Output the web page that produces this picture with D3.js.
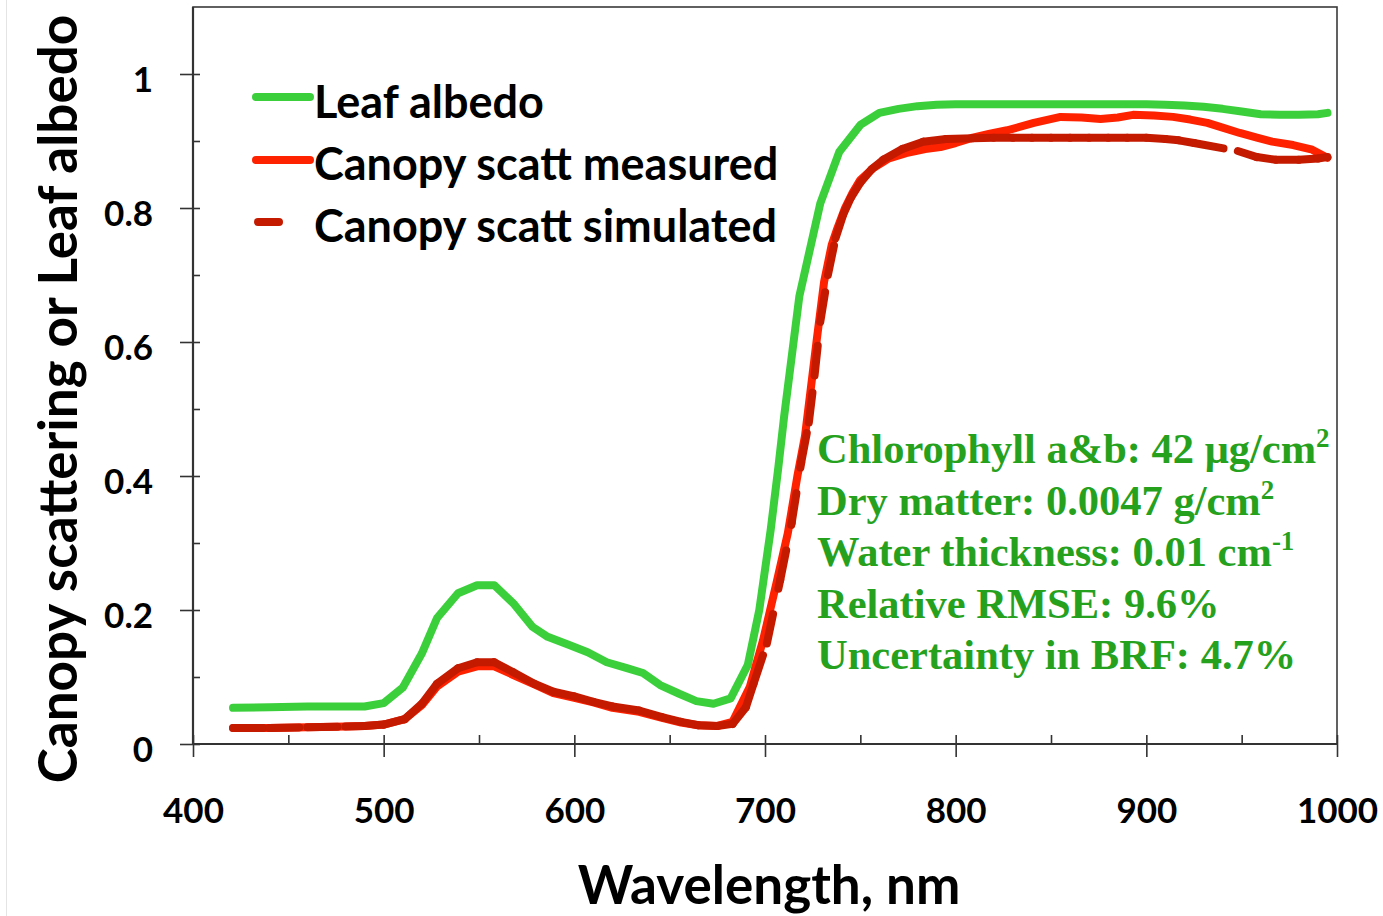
<!DOCTYPE html>
<html>
<head>
<meta charset="utf-8">
<script src="https://cdn.jsdelivr.net/npm/d3@7"></script>
<style>
  html, body { margin: 0; padding: 0; background: #fff; }
  svg { display: block; }
  .tick line { stroke: #333; stroke-width: 1.6; }
  .domain { stroke: none; }
</style>
</head>
<body>
<svg id="chart" width="1383" height="916"></svg>
<script>
// Leaf albedo spectrum
const leafWl = [421, 440, 460, 480, 490, 500, 510, 520, 528, 539, 549, 558, 568, 578, 586, 597, 607, 617, 628, 636, 645, 655, 664, 673, 682, 691, 697, 703, 707, 710, 718, 729, 739, 750, 760, 770, 780, 790, 800, 820, 840, 860, 880, 900, 910, 920, 930, 940, 950, 960, 970, 980, 990, 995];
const leafAlbedo = [0.054, 0.055, 0.056, 0.056, 0.056, 0.061, 0.084, 0.135, 0.188, 0.225, 0.237, 0.237, 0.210, 0.175, 0.160, 0.148, 0.137, 0.122, 0.113, 0.106, 0.088, 0.075, 0.064, 0.060, 0.068, 0.118, 0.200, 0.320, 0.413, 0.488, 0.668, 0.807, 0.884, 0.924, 0.942, 0.948, 0.952, 0.954, 0.955, 0.955, 0.955, 0.955, 0.955, 0.955, 0.954, 0.953, 0.951, 0.948, 0.944, 0.940, 0.939, 0.939, 0.940, 0.942];

// Canopy scattering, measured
const measWl = [421, 440, 460, 480, 490, 500, 511, 520, 528, 539, 549, 558, 568, 579, 589, 600, 610, 620, 634, 646, 656, 665, 675, 683, 692, 699, 706, 712, 717, 721, 724, 727, 731, 735, 738, 742, 746, 750, 757, 765, 774, 784, 792, 800, 809, 818, 827, 841, 855, 866, 876, 885, 893, 904, 914, 923, 932, 940, 949, 958, 966, 977, 987, 995];
const measScatt = [0.024, 0.024, 0.025, 0.026, 0.027, 0.029, 0.037, 0.058, 0.086, 0.108, 0.116, 0.116, 0.103, 0.089, 0.076, 0.069, 0.062, 0.054, 0.048, 0.039, 0.032, 0.028, 0.027, 0.033, 0.085, 0.155, 0.240, 0.315, 0.400, 0.460, 0.530, 0.600, 0.690, 0.745, 0.770, 0.800, 0.823, 0.842, 0.860, 0.874, 0.882, 0.888, 0.891, 0.897, 0.905, 0.911, 0.916, 0.927, 0.936, 0.935, 0.933, 0.935, 0.939, 0.938, 0.936, 0.932, 0.927, 0.920, 0.912, 0.905, 0.899, 0.894, 0.887, 0.875];

// Canopy scattering, simulated
const simWl = [421, 440, 460, 480, 490, 500, 511, 520, 528, 539, 549, 558, 568, 579, 589, 600, 610, 620, 634, 646, 656, 665, 675, 683, 690, 694, 701, 708, 714, 719, 723, 726, 729, 733, 737, 741, 745, 750, 756, 762, 772, 783, 795, 809, 820, 830, 840, 850, 860, 870, 880, 890, 900, 910, 917, 925, 948, 958, 968, 980, 990, 995];
const simScatt = [0.024, 0.024, 0.025, 0.026, 0.027, 0.029, 0.037, 0.060, 0.090, 0.113, 0.122, 0.122, 0.107, 0.090, 0.078, 0.071, 0.063, 0.056, 0.050, 0.040, 0.033, 0.028, 0.027, 0.030, 0.055, 0.090, 0.150, 0.245, 0.330, 0.420, 0.480, 0.550, 0.630, 0.700, 0.755, 0.790, 0.815, 0.838, 0.858, 0.872, 0.888, 0.899, 0.903, 0.904, 0.905, 0.905, 0.905, 0.905, 0.905, 0.905, 0.905, 0.905, 0.905, 0.903, 0.901, 0.897, 0.885, 0.876, 0.872, 0.872, 0.874, 0.876];

const xTicks = [400, 500, 600, 700, 800, 900, 1000];
const xMinorTicks = [450, 550, 650, 750, 850, 950];
const yTicks = [0, 0.2, 0.4, 0.6, 0.8, 1];
const yMinorTicks = [0.1, 0.3, 0.5, 0.7, 0.9];

const seriesNames = ["Leaf albedo", "Canopy scatt measured", "Canopy scatt simulated"];
const seriesColors = ["#3bd03b", "#ff2200", "#c41a00"];

const annotationLines = [
  ["Chlorophyll a&b: 42 μg/cm", "2"],
  ["Dry matter: 0.0047 g/cm", "2"],
  ["Water thickness: 0.01 cm", "-1"],
  ["Relative RMSE: 9.6%", ""],
  ["Uncertainty in BRF: 4.7%", ""]
];

const sansFont = "Lato, 'Open Sans', sans-serif";
const serifFont = "'Liberation Serif', 'Times New Roman', serif";

const svg = d3.select("#chart");

const x = d3.scaleLinear().domain([400, 1000]).range([193, 1337]);
const y = d3.scaleLinear().domain([0, 1.1]).range([744, 7]);

// thin page edge on the left
svg.append("line")
  .attr("x1", 6.5).attr("x2", 6.5).attr("y1", 0).attr("y2", 916)
  .attr("stroke", "#e4e4e4").attr("stroke-width", 1);

// plot frame
svg.append("rect")
  .attr("x", x(400)).attr("y", y(1.1))
  .attr("width", x(1000) - x(400)).attr("height", y(0) - y(1.1))
  .attr("fill", "none").attr("stroke", "#3a3a3a").attr("stroke-width", 1.6);

// x axis: major ticks crossing, minor ticks inside
const xAxisG = svg.append("g").attr("transform", `translate(0,${y(0)})`);
xAxisG.append("g")
  .call(d3.axisBottom(x).tickValues(xTicks).tickSize(13).tickFormat(d3.format("d")))
  .call(g => g.selectAll("text")
    .attr("y", 79).attr("dy", 0)
    .attr("font-family", sansFont).attr("font-weight", 700)
    .attr("font-size", 35).attr("fill", "#000"));
xAxisG.append("g")
  .call(d3.axisTop(x).tickValues(xTicks.concat(xMinorTicks)).tickSize(9).tickFormat(""));
xAxisG.append("line")
  .attr("x1", x(400)).attr("x2", x(1000))
  .attr("stroke", "#333").attr("stroke-width", 2.2);

// y axis
const yAxisG = svg.append("g").attr("transform", `translate(${x(400)},0)`);
yAxisG.append("g")
  .call(d3.axisLeft(y).tickValues(yTicks).tickSize(13).tickPadding(27)
    .tickFormat(d => String(+d.toFixed(1))))
  .call(g => g.selectAll("text")
    .attr("dy", 17)
    .attr("font-family", sansFont).attr("font-weight", 700)
    .attr("font-size", 35).attr("fill", "#000"));
yAxisG.append("g")
  .call(d3.axisRight(y).tickValues(yTicks.concat(yMinorTicks)).tickSize(7).tickFormat(""));
yAxisG.append("line")
  .attr("y1", y(0)).attr("y2", y(1.1))
  .attr("stroke", "#333").attr("stroke-width", 2.2);

// axis titles
svg.append("text")
  .attr("x", 769).attr("y", 904)
  .attr("text-anchor", "middle")
  .attr("font-family", sansFont).attr("font-weight", 700).attr("font-size", 53)
  .attr("fill", "#000")
  .text("Wavelength, nm");

svg.append("text")
  .attr("transform", "translate(77,399) rotate(-90)")
  .attr("text-anchor", "middle")
  .attr("font-family", sansFont).attr("font-weight", 700).attr("font-size", 53)
  .attr("fill", "#000")
  .text("Canopy scattering or Leaf albedo");

// spectra
const line = d3.line().x(d => x(d[0])).y(d => y(d[1]));
const leafPts = d3.zip(leafWl, leafAlbedo);
const measPts = d3.zip(measWl, measScatt);
const simPts = d3.zip(simWl, simScatt);

svg.append("path")
  .datum(leafPts)
  .attr("d", line)
  .attr("fill", "none").attr("stroke", seriesColors[0])
  .attr("stroke-width", 8).attr("stroke-linejoin", "round").attr("stroke-linecap", "round");

svg.append("path")
  .datum(measPts)
  .attr("d", line)
  .attr("fill", "none").attr("stroke", seriesColors[1])
  .attr("stroke-width", 8).attr("stroke-linejoin", "round").attr("stroke-linecap", "round");

// simulated curve: dash pattern restarts at every sample point
svg.append("g")
  .selectAll("line")
  .data(d3.pairs(simPts))
  .join("line")
  .attr("x1", d => x(d[0][0])).attr("y1", d => y(d[0][1]))
  .attr("x2", d => x(d[1][0])).attr("y2", d => y(d[1][1]))
  .attr("stroke", seriesColors[2]).attr("stroke-width", 8)
  .attr("stroke-linecap", "round")
  .attr("stroke-dasharray", "30,26");

// legend
const legendRows = [
  { sampleY: 97, textY: 118, x1: 256, x2: 310 },
  { sampleY: 160, textY: 180, x1: 256, x2: 310 },
  { sampleY: 222, textY: 242, x1: 258, x2: 279 }
];
const legend = svg.append("g");
legendRows.forEach((r, i) => {
  legend.append("line")
    .attr("x1", r.x1).attr("x2", r.x2).attr("y1", r.sampleY).attr("y2", r.sampleY)
    .attr("stroke", seriesColors[i]).attr("stroke-width", 8).attr("stroke-linecap", "round");
  legend.append("text")
    .attr("x", 314).attr("y", r.textY)
    .attr("font-family", sansFont).attr("font-weight", 700).attr("font-size", 45)
    .attr("fill", "#000")
    .text(seriesNames[i]);
});

// model parameters and fit statistics
const note = svg.append("g")
  .attr("font-family", serifFont).attr("font-weight", 700).attr("font-size", 42.5)
  .attr("fill", "#26a11e");
annotationLines.forEach((l, i) => {
  const t = note.append("text").attr("x", 817).attr("y", 463 + i * 51.5);
  t.append("tspan").text(l[0]);
  if (l[1]) {
    t.append("tspan").attr("font-size", 27).attr("dy", -16).text(l[1]);
  }
});
</script>
</body>
</html>
